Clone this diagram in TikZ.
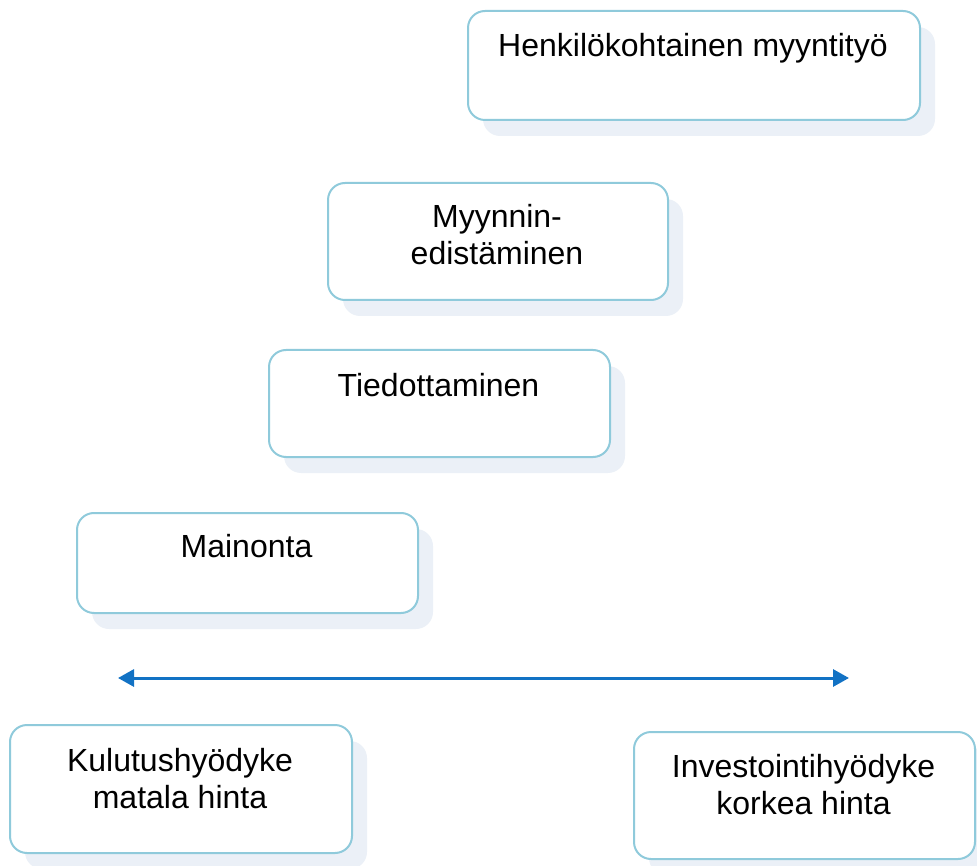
\documentclass[tikz,border=0pt]{standalone}
\usepackage{fontspec}
\setmainfont{Liberation Sans}
\usetikzlibrary{arrows.meta}
\definecolor{boxline}{HTML}{8FCADB}
\definecolor{boxshade}{HTML}{EBF0F7}
\definecolor{arrowblue}{HTML}{1272C4}
\tikzset{
  card/.style={draw=boxline, line width=2pt, fill=white, rounded corners=17pt},
  shade/.style={fill=boxshade, rounded corners=17pt},
  label/.style={anchor=base, align=center, inner sep=0pt,
    font=\fontsize{32}{37}\selectfont},
  span/.style={draw=arrowblue, line width=3pt,
    {Triangle[length=16pt,width=17pt]}-{Triangle[length=16pt,width=17pt]}}
}
% rounded card with its offset shade: name, left, top, right, bottom
\newcommand{\cardbox}[5]{%
  \fill[shade] (#2+16,#3+17) rectangle (#4+16,#5+17);
  \node[card, minimum width=#4-#2, minimum height=#5-#3, anchor=north west,
        inner sep=0pt] (#1) at (#2,#3) {};
}
\begin{document}
\begin{tikzpicture}[x=1pt,y=-1pt]
  \useasboundingbox (0,0) rectangle (977,866);
  \clip (0,0) rectangle (977,866);

  \cardbox{personal}{467}{10}{919}{119}
  \cardbox{promo}{327}{182}{667}{299}
  \cardbox{info}{268}{349}{609}{456}
  \cardbox{ads}{76}{512}{417}{612}
  \cardbox{consumer}{9}{724}{351}{852}
  \cardbox{invest}{633}{731}{974}{858}

  % single-line labels sit on their baseline; two-line labels on the last line's
  \node[label] (personalT) at (693,57) {Henkilökohtainen myyntityö};
  \node[label] (promoT) at (497,265) {Myynnin-\\edistäminen};
  \node[label] (infoT) at (438.5,396) {Tiedottaminen};
  \node[label] (adsT) at (246.5,557) {Mainonta};
  \node[label] (consumerT) at (180,808) {Kulutushyödyke\\matala hinta};
  \node[label] (investT) at (803.5,814) {Investointihyödyke\\korkea hinta};

  \coordinate (low) at (118,678);
  \coordinate (high) at (849,678);
  \draw[span] (low) -- (high);
\end{tikzpicture}
\end{document}
